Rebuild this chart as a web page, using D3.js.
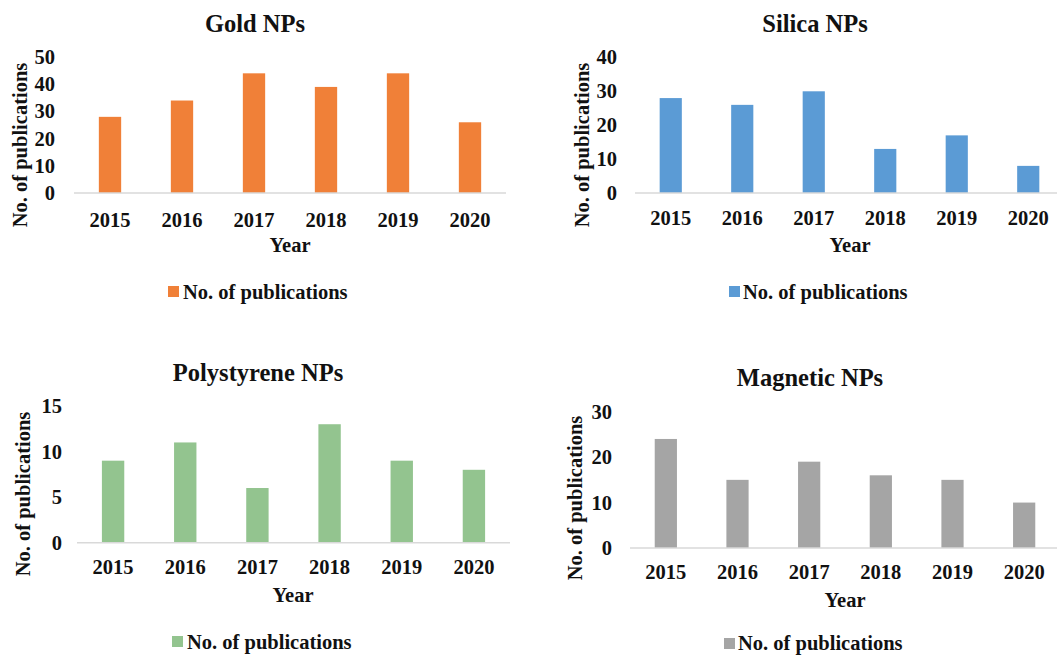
<!DOCTYPE html>
<meta charset="utf-8">
<script src="https://d3js.org/d3.v7.min.js"></script>
<style>
  body { margin: 0; background: #fff; }
  text { font-family: "Liberation Serif", "Times New Roman", serif; font-weight: bold; fill: #111; }
</style>
<svg id="chart" width="1057" height="655"></svg>
<script>
// data
var years = ["2015", "2016", "2017", "2018", "2019", "2020"];
var goldValues = [28, 34, 44, 39, 44, 26];
var silicaValues = [28, 26, 30, 13, 17, 8];
var polystyreneValues = [9, 11, 6, 13, 9, 8];
var magneticValues = [24, 15, 19, 16, 15, 10];

var goldTicks = [0, 10, 20, 30, 40, 50];
var silicaTicks = [0, 10, 20, 30, 40];
var polystyreneTicks = [0, 5, 10, 15];
var magneticTicks = [0, 10, 20, 30];

var titles = ["Gold NPs", "Silica NPs", "Polystyrene NPs", "Magnetic NPs"];
var colors = ["#f08038", "#5b9bd5", "#93c48f", "#a5a5a5"];

var svg = d3.select("#chart");

// layout of each small chart (pixel positions)
var panels = [
  { values: goldValues, ticks: goldTicks, x0: 74, x1: 506, base: 193, top: 57,
    tickX: 55, tickY: 220, yTitle: [20, 145], title: [255, 23], year: [290, 245], legend: [168, 286, 183, 292] },
  { values: silicaValues, ticks: silicaTicks, x0: 635, x1: 1064, base: 193, top: 57.4,
    tickX: 617, tickY: 218, yTitle: [582, 145], title: [815, 23], year: [850, 245], legend: [729, 286, 743, 292] },
  { values: polystyreneValues, ticks: polystyreneTicks, x0: 77, x1: 510, base: 542.7, top: 406,
    tickX: 62, tickY: 567, yTitle: [23, 494], title: [258, 372], year: [293, 595], legend: [172, 636, 187, 642] },
  { values: magneticValues, ticks: magneticTicks, x0: 630, x1: 1060, base: 548, top: 411.7,
    tickX: 612, tickY: 572, yTitle: [575, 498], title: [810, 377], year: [845, 600], legend: [724, 638, 738, 643] }
];

panels.forEach(function(p, i) {
  var g = svg.append("g");
  var x = d3.scaleBand().domain(years).range([p.x0, p.x1]).paddingInner(0.69).paddingOuter(0.345);
  var y = d3.scaleLinear().domain([0, d3.max(p.ticks)]).range([p.base, p.top]);

  // title
  g.append("text").attr("x", p.title[0]).attr("y", p.title[1])
    .attr("text-anchor", "middle").attr("dominant-baseline", "central")
    .style("font-size", "24.5px").text(titles[i]);

  // bars
  g.selectAll("rect.bar").data(p.values).enter().append("rect")
    .attr("class", "bar")
    .attr("x", function(d, j) { return x(years[j]); })
    .attr("width", x.bandwidth())
    .attr("y", function(d) { return y(d); })
    .attr("height", function(d) { return y(0) - y(d); })
    .style("fill", colors[i]);

  // baseline
  g.append("line").attr("x1", p.x0).attr("x2", p.x1).attr("y1", p.base).attr("y2", p.base)
    .style("stroke", "#d9d9d9").style("stroke-width", 1.5);

  // y tick labels
  g.selectAll("text.ytick").data(p.ticks).enter().append("text")
    .attr("class", "ytick")
    .attr("x", p.tickX).attr("y", function(d) { return y(d); })
    .attr("text-anchor", "end").attr("dominant-baseline", "central")
    .style("font-size", "20.5px").text(function(d) { return d; });

  // x tick labels
  g.selectAll("text.xtick").data(years).enter().append("text")
    .attr("class", "xtick")
    .attr("x", function(d) { return x(d) + x.bandwidth() / 2; }).attr("y", p.tickY)
    .attr("text-anchor", "middle").attr("dominant-baseline", "central")
    .style("font-size", "20.5px").text(function(d) { return d; });

  // axis titles
  g.append("text").attr("transform", "translate(" + p.yTitle[0] + "," + p.yTitle[1] + ") rotate(-90)")
    .attr("text-anchor", "middle").attr("dominant-baseline", "central")
    .style("font-size", "20.5px").text("No. of publications");
  g.append("text").attr("x", p.year[0]).attr("y", p.year[1])
    .attr("text-anchor", "middle").attr("dominant-baseline", "central")
    .style("font-size", "20.5px").text("Year");

  // legend
  g.append("rect").attr("x", p.legend[0]).attr("y", p.legend[1]).attr("width", 11).attr("height", 11)
    .style("fill", colors[i]);
  g.append("text").attr("x", p.legend[2]).attr("y", p.legend[3])
    .attr("dominant-baseline", "central")
    .style("font-size", "20.5px").text("No. of publications");
});
</script>
